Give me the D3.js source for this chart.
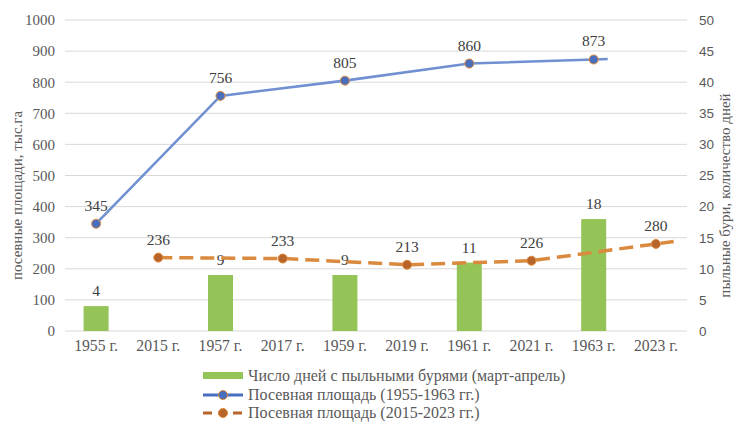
<!DOCTYPE html>
<html>
<head>
<meta charset="utf-8">
<script src="https://cdn.jsdelivr.net/npm/d3@7/dist/d3.min.js"></script>
<style>
  html, body { margin: 0; padding: 0; background: #fff; }
  svg { display: block; }
  .serif { font-family: "Liberation Serif", "Times New Roman", "DejaVu Serif", serif; }
  .sans { font-family: "Liberation Sans", Arial, sans-serif; }
</style>
</head>
<body>
<svg id="chart" width="736" height="423"></svg>
<script>
// Categories along the x axis (two periods interleaved)
const categories = ["1955 г.", "2015 г.", "1957 г.", "2017 г.", "1959 г.", "2019 г.", "1961 г.", "2021 г.", "1963 г.", "2023 г."];

// Dust-storm days (March–April), right axis
const stormCats = ["1955 г.", "1957 г.", "1959 г.", "1961 г.", "1963 г."];
const stormDays = [4, 9, 9, 11, 18];

// Sown area, thousand ha, 1955–1963
const areaOldCats = ["1955 г.", "1957 г.", "1959 г.", "1961 г.", "1963 г."];
const areaOld = [345, 756, 805, 860, 873];

// Sown area, thousand ha, 2015–2023
const areaNewCats = ["2015 г.", "2017 г.", "2019 г.", "2021 г.", "2023 г."];
const areaNew = [236, 233, 213, 226, 280];

const leftTicks = [0, 100, 200, 300, 400, 500, 600, 700, 800, 900, 1000];
const rightTicks = [0, 5, 10, 15, 20, 25, 30, 35, 40, 45, 50];

const legendLabels = [
  "Число дней с пыльными бурями (март-апрель)",
  "Посевная площадь (1955-1963 гг.)",
  "Посевная площадь (2015-2023 гг.)"
];

const cGreen = "#94C357", cBlue = "#7090D2", cBlueMk = "#4A6EBE",
      cOrange = "#D98A3E", cOrangeMk = "#B8652B", cMkEdge = "#E08A3C";

const svg = d3.select("#chart");
const m = { left: 65, right: 687, top: 20, bottom: 331 };

const x = d3.scaleBand().domain(categories).range([m.left, m.right]).padding(0);
const yL = d3.scaleLinear().domain([0, 1000]).range([m.bottom, m.top]);
const yR = d3.scaleLinear().domain([0, 50]).range([m.bottom, m.top]);
const cx = c => x(c) + x.bandwidth() / 2;

// Gridlines
svg.append("g").selectAll("line").data(leftTicks).join("line")
  .attr("x1", m.left).attr("x2", m.right)
  .attr("y1", d => yL(d)).attr("y2", d => yL(d))
  .attr("stroke", "#D9D9D9").attr("stroke-width", 1);

// Left axis
const axL = svg.append("g").attr("transform", `translate(${m.left - 10},0)`)
  .call(d3.axisLeft(yL).tickValues(leftTicks).tickFormat(d3.format("d")).tickSize(0).tickPadding(0));
axL.attr("font-family", null).attr("font-size", null);
axL.select(".domain").remove();
axL.selectAll("text").attr("class", "serif").style("font-size", "15px").attr("fill", "#595959");

// Right axis
const axR = svg.append("g").attr("transform", `translate(${m.right + 12},0)`)
  .call(d3.axisRight(yR).tickValues(rightTicks).tickSize(0).tickPadding(0));
axR.attr("font-family", null).attr("font-size", null);
axR.select(".domain").remove();
axR.selectAll("text").attr("class", "sans").style("font-size", "13.5px").attr("fill", "#595959");

// Bottom axis labels
const axB = svg.append("g").attr("transform", `translate(0,${m.bottom + 7})`)
  .call(d3.axisBottom(x).tickSize(0).tickPadding(0));
axB.attr("font-family", null).attr("font-size", null);
axB.select(".domain").remove();
axB.selectAll("text").attr("class", "serif").style("font-size", "15.7px").attr("fill", "#595959")
  .attr("dy", "0.85em");

// Axis titles
svg.append("text").attr("class", "serif")
  .attr("transform", `translate(22,${(m.top + m.bottom) / 2 + 20}) rotate(-90)`)
  .attr("text-anchor", "middle").style("font-size", "15px")
  .attr("fill", "#595959").text("посевные площади, тыс.га");
svg.append("text").attr("class", "serif")
  .attr("transform", `translate(730,${(m.top + m.bottom) / 2 + 20}) rotate(-90)`)
  .attr("text-anchor", "middle").style("font-size", "15px")
  .attr("fill", "#595959").text("пыльные бури, количество дней");

// Bars
const barW = 25;
const stormData = stormCats.map((c, i) => ({ c, v: stormDays[i] }));
svg.append("g").selectAll("rect").data(stormData).join("rect")
  .attr("x", d => cx(d.c) - barW / 2).attr("width", barW)
  .attr("y", d => yR(d.v)).attr("height", d => yR(0) - yR(d.v))
  .attr("fill", cGreen);
svg.append("g").selectAll("text").data(stormData).join("text")
  .attr("class", "serif")
  .attr("x", d => cx(d.c)).attr("y", d => yR(d.v) - 10)
  .attr("text-anchor", "middle").style("font-size", "15.5px")
  .attr("fill", "#404040").text(d => d.v);

// Line helper: polyline plus a short tail continuing the last segment
function tailPoints(pts, tail) {
  const a = pts[pts.length - 2], b = pts[pts.length - 1];
  const dx = b[0] - a[0], dy = b[1] - a[1], L = Math.hypot(dx, dy);
  return pts.concat([[b[0] + dx / L * tail, b[1] + dy / L * tail]]);
}

const oldData = areaOldCats.map((c, i) => ({ c, v: areaOld[i] }));
const newData = areaNewCats.map((c, i) => ({ c, v: areaNew[i] }));
const line = d3.line();

// 2015–2023 dashed line
svg.append("path")
  .attr("d", line(tailPoints(newData.map(d => [cx(d.c), yL(d.v)]), 18)))
  .attr("fill", "none").attr("stroke", cOrange).attr("stroke-width", 3.5)
  .attr("stroke-dasharray", "14,7");

// 1955–1963 solid line
svg.append("path")
  .attr("d", line(tailPoints(oldData.map(d => [cx(d.c), yL(d.v)]), 14)))
  .attr("fill", "none").attr("stroke", cBlue).attr("stroke-width", 2.6);

// Markers
svg.append("g").selectAll("circle").data(newData).join("circle")
  .attr("cx", d => cx(d.c)).attr("cy", d => yL(d.v)).attr("r", 4.5)
  .attr("fill", cOrangeMk).attr("stroke", cMkEdge).attr("stroke-width", 1);
svg.append("g").selectAll("circle").data(oldData).join("circle")
  .attr("cx", d => cx(d.c)).attr("cy", d => yL(d.v)).attr("r", 4.5)
  .attr("fill", cBlueMk).attr("stroke", cMkEdge).attr("stroke-width", 1);

// Value labels for both line series
svg.append("g").selectAll("text").data(oldData.concat(newData)).join("text")
  .attr("class", "serif")
  .attr("x", d => cx(d.c)).attr("y", d => yL(d.v) - 13)
  .attr("text-anchor", "middle").style("font-size", "15.5px")
  .attr("fill", "#404040").text(d => d.v);

// Legend
const lg = svg.append("g");
const lgX = 203, lgY = [376, 395, 413];
lg.append("rect").attr("x", lgX).attr("y", lgY[0] - 4).attr("width", 40).attr("height", 7).attr("fill", cGreen);
lg.append("line").attr("x1", lgX).attr("x2", lgX + 40).attr("y1", lgY[1]).attr("y2", lgY[1])
  .attr("stroke", "#4A6EBE").attr("stroke-width", 3);
lg.append("circle").attr("cx", lgX + 20).attr("cy", lgY[1]).attr("r", 4.5)
  .attr("fill", cBlueMk).attr("stroke", cMkEdge);
lg.append("line").attr("x1", lgX).attr("x2", lgX + 40).attr("y1", lgY[2]).attr("y2", lgY[2])
  .attr("stroke", cOrangeMk).attr("stroke-width", 3).attr("stroke-dasharray", "9,6");
lg.append("circle").attr("cx", lgX + 20).attr("cy", lgY[2]).attr("r", 4.5)
  .attr("fill", cOrangeMk).attr("stroke", cMkEdge);
lg.selectAll("text.lab").data(legendLabels).join("text")
  .attr("class", "lab serif")
  .attr("x", lgX + 45).attr("y", (d, i) => lgY[i] + 5)
  .style("font-size", "16px").attr("fill", "#595959")
  .text(d => d);
</script>
</body>
</html>
